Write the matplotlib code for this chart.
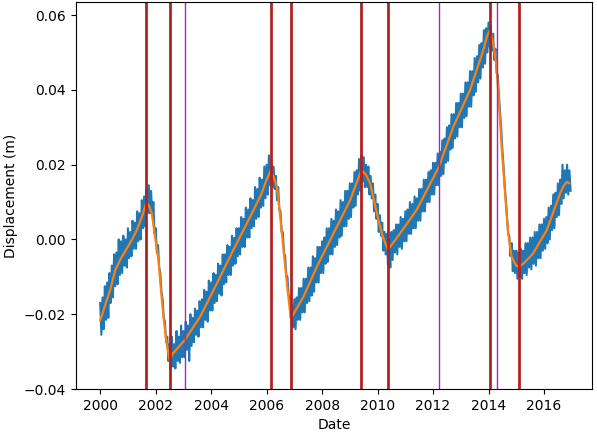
import matplotlib
matplotlib.use("Agg")
import matplotlib.pyplot as plt
import numpy as np

# monthly high / low of the daily displacement readings (mm), Jan 2000 .. Dec 2016
blue_hi_mm = [
    -17.0, -15.5, -12.5, -11.5, -9.0, -7.0, -4.0, -3.5, 0.0, -0.5, 1.0, 0.0,          # 2000
    3.0, 2.0, 5.0, 4.5, 7.5, 7.0, 10.5, 11.5, 13.5, 14.5, 13.0, 10.0,                 # 2001
    3.0, -1.5, -9.0, -16.0, -22.0, -26.0, -28.0, -26.0, -28.0, -24.5, -26.0, -23.0,   # 2002
    -24.5, -22.0, -23.0, -20.0, -21.0, -18.5, -19.0, -16.5, -16.0, -13.5, -14.0, -11.0,  # 2003
    -11.5, -9.0, -9.5, -6.5, -7.0, -4.0, -4.0, -1.5, -2.0, 1.0, 0.5, 3.0,             # 2004
    3.0, 6.0, 5.5, 8.5, 8.0, 11.0, 10.5, 14.0, 13.5, 16.5, 16.0, 19.5,                # 2005
    20.0, 22.5, 21.0, 19.5, 17.0, 14.0, 7.5, 2.0, -4.5, -10.0, -15.5, -17.5,          # 2006
    -16.0, -15.5, -13.0, -13.0, -10.5, -10.5, -7.5, -7.5, -4.5, -5.0, -2.0, -2.0,     # 2007
    -0.5, 0.5, 3.0, 3.0, 5.5, 5.0, 8.0, 7.5, 10.5, 10.0, 13.0, 13.0,                  # 2008
    15.0, 15.0, 18.0, 18.5, 21.5, 22.5, 22.0, 20.0, 19.5, 17.0, 15.0, 12.0,           # 2009
    9.5, 6.5, 4.5, 2.0, 1.5, 0.0, 2.0, 2.5, 4.0, 4.0, 6.0, 5.5,                       # 2010
    7.5, 8.0, 10.0, 9.5, 11.5, 11.0, 13.5, 13.5, 16.0, 16.0, 18.0, 18.5,              # 2011
    20.5, 20.5, 23.0, 23.5, 26.5, 27.0, 30.0, 30.5, 33.5, 33.5, 36.5, 36.5,           # 2012
    39.0, 39.0, 42.0, 42.0, 45.0, 45.0, 48.5, 49.0, 52.0, 52.5, 56.0, 56.5,           # 2013
    58.0, 57.0, 55.0, 51.0, 44.0, 34.0, 24.0, 14.5, 6.0, 1.0, -1.0, -3.0,             # 2014
    -3.0, -3.5, -2.5, -3.0, -1.0, -1.0, 0.5, 0.5, 2.0, 2.0, 4.0, 4.0,                 # 2015
    5.5, 6.0, 8.5, 9.0, 12.0, 12.5, 15.0, 16.0, 20.0, 18.5, 20.0, 18.5,               # 2016
]
blue_lo_mm = [
    -25.5, -24.0, -21.5, -21.0, -17.0, -15.5, -12.5, -12.0, -9.5, -9.0, -7.0, -7.5,   # 2000
    -5.0, -4.5, -2.5, -2.5, -0.5, 0.0, 3.0, 3.5, 7.0, 7.0, 6.5, 1.5,                  # 2001
    -3.5, -7.5, -14.0, -21.0, -27.5, -32.5, -35.0, -34.0, -34.5, -32.5, -33.0, -31.5, # 2002
    -31.5, -29.5, -32.5, -28.5, -27.5, -25.5, -26.0, -23.5, -23.5, -21.5, -22.0, -19.0,  # 2003
    -19.0, -17.0, -16.5, -14.5, -15.0, -12.0, -11.5, -9.5, -9.5, -7.0, -6.5, -4.5,    # 2004
    -4.0, -2.0, -2.0, 0.5, 0.5, 3.0, 3.5, 5.5, 6.0, 8.5, 9.0, 11.0,                   # 2005
    12.0, 14.5, 14.0, 13.5, 10.5, 8.0, 2.0, -3.5, -9.5, -15.0, -21.0, -23.5,          # 2006
    -24.0, -21.5, -21.5, -19.5, -19.5, -17.0, -16.5, -15.0, -14.0, -11.5, -11.5, -9.0,   # 2007
    -9.0, -6.5, -6.0, -4.0, -4.0, -2.0, -1.5, 0.5, 1.0, 3.5, 3.5, 5.5,                # 2008
    6.0, 8.5, 9.0, 12.0, 13.0, 15.5, 14.0, 14.0, 12.0, 11.0, 7.5, 5.5,                # 2009
    2.0, 1.0, -3.0, -4.0, -7.0, -7.5, -5.5, -3.5, -4.0, -2.0, -2.5, -0.5,             # 2010
    -0.5, 1.5, 1.5, 3.0, 3.0, 5.0, 5.0, 7.5, 7.5, 10.0, 10.0, 12.0,                   # 2011
    12.0, 14.5, 14.5, 17.0, 17.5, 20.5, 21.0, 24.0, 24.5, 27.0, 27.5, 30.0,           # 2012
    30.0, 32.5, 33.0, 35.5, 35.5, 38.5, 39.5, 42.0, 43.0, 46.0, 47.0, 50.0,           # 2013
    51.5, 50.5, 48.0, 44.5, 38.5, 29.5, 19.5, 10.5, 1.5, -4.5, -8.5, -9.0,            # 2014
    -10.5, -10.0, -10.5, -9.0, -9.5, -7.5, -8.0, -6.5, -7.0, -5.0, -5.0, -3.0,        # 2015
    -2.5, -1.0, 0.0, 2.5, 3.0, 6.0, 6.5, 9.5, 11.0, 12.5, 12.0, 13.0,                 # 2016
]

# smoothed fit (decimal year, mm)
fit_dates = [2000.0, 2000.18, 2000.36, 2000.54, 2000.75, 2000.96, 2001.15, 2001.32,
             2001.5, 2001.66, 2001.76, 2001.86, 2001.98, 2002.10, 2002.19, 2002.28,
             2002.39, 2002.5, 2002.62, 2003.05, 2003.6, 2004.21, 2004.8, 2005.41,
             2005.8, 2006.0, 2006.14, 2006.25, 2006.37, 2006.49, 2006.61, 2006.74,
             2006.87, 2007.0, 2007.33, 2007.81, 2008.41, 2009.01, 2009.2, 2009.42,
             2009.58, 2009.73, 2009.88, 2010.03, 2010.2, 2010.37, 2010.55, 2010.81,
             2011.41, 2012.21, 2012.73, 2013.33, 2013.81, 2013.95, 2014.05, 2014.17,
             2014.29, 2014.38, 2014.48, 2014.6, 2014.71, 2014.83, 2014.92, 2015.0,
             2015.1, 2015.3, 2015.61, 2016.1, 2016.58, 2016.7, 2016.82, 2016.92]
fit_mm = [-21.6, -17.5, -13.5, -8.2, -5.0, -2.4, 0.0, 2.5,
          6.0, 9.7, 9.0, 7.0, 0.5, -5.5, -13.5, -20.7,
          -27.5, -32.2, -30.5, -26.9, -20.7, -11.7, -2.8, 6.1,
          12.0, 16.0, 18.3, 16.8, 14.1, 6.0, -2.8, -12.5,
          -21.1, -19.5, -15.3, -7.3, 1.6, 10.5, 14.3, 18.6,
          17.3, 15.0, 10.2, 5.2, 0.5, -2.8, -1.0, 1.6,
          7.9, 19.4, 30.1, 39.9, 50.6, 54.5, 56.0, 52.5,
          46.2, 36.0, 23.9, 12.0, 1.6, -4.5, -6.0, -7.0,
          -7.3, -6.2, -3.7, 2.5, 12.3, 14.2, 15.4, 15.0]

# detected events
red_events = [2001.66, 2002.50, 2006.14, 2006.88, 2009.42, 2010.37, 2014.05, 2015.10]
purple_events = [2003.05, 2012.20, 2014.30]

# readings alternate high / low twice a month
blue_mm = np.column_stack([blue_hi_mm, blue_lo_mm]).ravel()
blue_dates = 2000 + np.arange(len(blue_mm)) / 24

fig = plt.figure(figsize=(5.97, 4.32), dpi=100)
ax = fig.add_axes([0.127, 0.0995, 0.8646, 0.895])

ax.plot(blue_dates, blue_mm / 1000, color='C0', lw=1.5)
ax.plot(fit_dates, np.array(fit_mm) / 1000, color='C1', lw=1.6)
for d in red_events:
    ax.axvline(d, color='#b22222', lw=2)
for d in purple_events:
    ax.axvline(d, color='#a626c4', lw=1)

ax.set_xlim(1999.12, 2017.73)
ax.set_ylim(-0.04, 0.0634)
ax.set_xticks(np.arange(2000, 2017, 2))
ax.set_xlabel('Date')
ax.set_ylabel('Displacement (m)')

fig.savefig('out.png', dpi=100)
